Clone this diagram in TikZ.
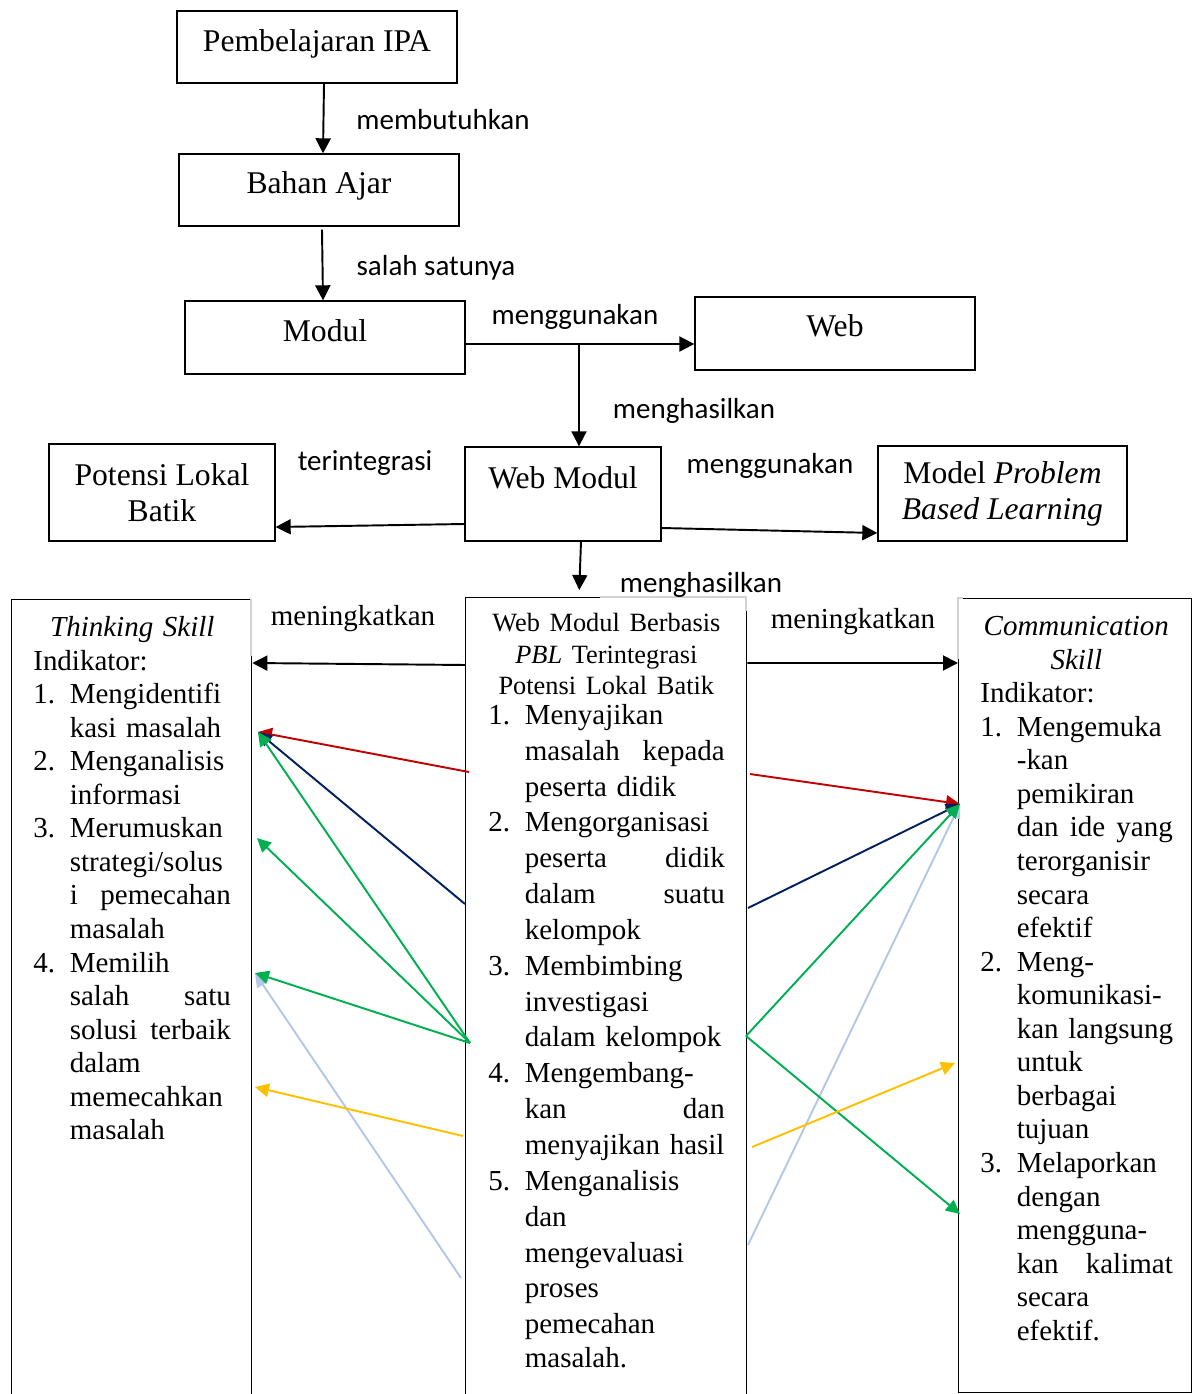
\documentclass[tikz,border=0pt]{standalone}
\usepackage{fontspec}
\setmainfont{Liberation Serif}
\newfontfamily\lblfont{Carlito}
\usetikzlibrary{arrows.meta}
\definecolor{cred}{RGB}{192,0,0}
\definecolor{cnavy}{RGB}{0,32,96}
\definecolor{cgreen}{RGB}{0,176,80}
\definecolor{cyellow}{RGB}{255,192,0}
\definecolor{cblue}{RGB}{180,199,231}
\newcommand{\li}[2]{\makebox[0.73cm][l]{#1}\mbox{#2}}
\newcommand{\spread}[2][3.22cm]{\hbox to #1{#2}}

\begin{document}
\begin{tikzpicture}[x = 0.02cm, y = -0.02cm,
	box/.style = {draw, line width = 0.8pt, font = \fontsize{18}{20.4}\selectfont, align = center},
	one/.style = {text height = 0.45cm, text depth = #1},
	frame/.style = {draw, line width = 0.8pt, anchor = north west, inner sep = 0pt},
	txt/.style = {anchor = north west, inner sep = 0pt, font = \fontsize{16.5}{19.1}\selectfont},
	lbl/.style = {font = \lblfont\fontsize{16.5}{19}\selectfont, text height = 0.4cm, text depth = 0.1cm},
	serlbl/.style = {font = \fontsize{16.5}{19}\selectfont, text height = 0.4cm, text depth = 0.1cm},
	arr/.style = {line width = 1.1pt, -{Triangle[length = 0.3cm, width = 0.3cm]}},
	cl/.style = {line width = 1.1pt, draw = #1, fill = #1, -{Triangle[length = 0.28cm, width = 0.27cm]}}]
	\useasboundingbox (0, 0) rectangle (1192, 1394);
		% upper boxes
		\node[box, one = 0.27cm, minimum width = 5.6cm, minimum height = 1.44cm] (ipa) at (317, 47) {Pembelajaran IPA};
		\node[box, one = 0.31cm, minimum width = 5.6cm, minimum height = 1.44cm] (bahan) at (319, 190) {Bahan Ajar};
		\node[box, one = 0.31cm, minimum width = 5.6cm, minimum height = 1.46cm] (modul) at (325, 337.5) {Modul};
		\node[box, one = 0.35cm, minimum width = 5.6cm, minimum height = 1.46cm] (web) at (835, 333.5) {Web};
		\node[box, minimum width = 4.52cm, minimum height = 1.94cm] (potensi) at (162, 492.5) {Potensi Lokal\\ Batik};
		\node[box, one = 0.67cm, minimum width = 3.92cm, minimum height = 1.88cm] (webmod) at (563, 494) {Web Modul};
		\node[box, minimum width = 4.98cm, minimum height = 1.9cm] (pbl) at (1002.5, 493.5) {Model \textit{Problem}\\ \textit{Based Learning}};
		% lower frames
		\node[frame, minimum width = 4.8cm, minimum height = 16.1cm] (think) at (11, 599) {};
		\node[frame, minimum width = 5.62cm, minimum height = 16.1cm] (basis) at (465, 597) {};
		\node[frame, minimum width = 4.66cm, minimum height = 15.88cm] (comm) at (958, 598) {};
		\draw[gray!35, line width = 0.8pt] (600, 597) -- (746, 597) -- (746, 611);
		\draw[gray!35, line width = 0.8pt] (251, 599) -- (251, 656);
		\draw[gray!35, line width = 0.8pt] (963, 598) -- (958, 598) -- (958, 659);
		% texts in the frames
		\node[txt, text width = 3.96cm] (thinktxt) at ([shift = {(0.44cm, -0.34cm)}] think.north west) {%
			{\centering\itshape Thinking Skill\par}
			Indikator:\\
			\li{1.}{Mengidentifi}\\
			\li{}{kasi masalah}\\
			\li{2.}{Menganalisis}\\
			\li{}{informasi}\\
			\li{3.}{Merumuskan}\\
			\li{}{strategi/solus}\\
			\li{}{\spread{i\hfill pemecahan}}\\
			\li{}{masalah}\\
			\li{4.}{Memilih}\\
			\li{}{\spread{salah\hfill satu}}\\
			\li{}{\spread{solusi\hfill terbaik}}\\
			\li{}{dalam}\\
			\li{}{memecahkan}\\
			\li{}{masalah}};
		\node[txt, text width = 4.72cm] (basistxt) at ([shift = {(0.46cm, -0.32cm)}] basis.north west) {%
			{\centering\fontsize{15}{17.9}\selectfont Web Modul Berbasis\\ \textit{PBL} Terintegrasi\\ Potensi Lokal Batik\par}
			\vspace{-0.12cm}
			\fontsize{16.5}{20.4}\selectfont
			\li{1.}{Menyajikan}\\
			\li{}{\spread[4cm]{masalah\hfill kepada}}\\
			\li{}{peserta didik}\\
			\li{2.}{Mengorganisasi}\\
			\li{}{\spread[4cm]{peserta\hfill didik}}\\
			\li{}{\spread[4cm]{dalam\hfill suatu}}\\
			\li{}{kelompok}\\
			\li{3.}{Membimbing}\\
			\li{}{investigasi}\\
			\li{}{dalam kelompok}\\
			\li{4.}{Mengembang-}\\
			\li{}{\spread[4cm]{kan\hfill dan}}\\
			\li{}{menyajikan hasil}\\
			\li{5.}{Menganalisis}\\
			\li{}{dan}\\
			\li{}{mengevaluasi}\\
			\li{}{proses}\\
			\li{}{pemecahan}\\
			\li{}{masalah.}};
		\node[txt, text width = 3.84cm] (commtxt) at ([shift = {(0.44cm, -0.36cm)}] comm.north west) {%
			{\centering\itshape Communication\\ Skill\par}
			Indikator:\\
			\li{1.}{Mengemuka}\\
			\li{}{-kan}\\
			\li{}{pemikiran}\\
			\li{}{\spread[3.12cm]{dan\hfill ide\hfill yang}}\\
			\li{}{terorganisir}\\
			\li{}{secara}\\
			\li{}{efektif}\\
			\li{2.}{Meng-}\\
			\li{}{komunikasi-}\\
			\li{}{kan langsung}\\
			\li{}{untuk}\\
			\li{}{berbagai}\\
			\li{}{tujuan}\\
			\li{3.}{Melaporkan}\\
			\li{}{dengan}\\
			\li{}{mengguna-}\\
			\li{}{\spread[3.12cm]{kan\hfill kalimat}}\\
			\li{}{secara}\\
			\li{}{efektif.}};
		% labels
		\node[lbl] (lbutuh) at (443, 122) {membutuhkan};
		\node[lbl] (lsalah) at (436, 268) {salah satunya};
		\node[lbl] (lguna) at (575, 317) {menggunakan};
		\node[lbl] (lhasil) at (694, 411) {menghasilkan};
		\node[lbl] (lintegrasi) at (365, 463) {terintegrasi};
		\node[lbl] (lgunapbl) at (770, 466) {menggunakan};
		\node[lbl] (lhasilbasis) at (701, 585) {menghasilkan};
		\node[serlbl] (ltingkatkiri) at (353, 618) {meningkatkan};
		\node[serlbl] (ltingkatkanan) at (853, 621) {meningkatkan};
		% black connectors
		\draw[arr] ([xshift = 0.14cm] ipa.south) -- ([xshift = 0.08cm] bahan.north);
		\draw[arr] ([xshift = 0.06cm, yshift = -0.06cm] bahan.south) -- ([xshift = -0.04cm] modul.north);
		\draw[arr] ([yshift = -0.13cm] modul.east) -- ([yshift = -0.13cm] modul.east -| web.west);
		\coordinate (split) at (579, 344);
		\draw[arr] (split) -- (split |- webmod.north);
		\draw[arr] ([yshift = -0.6cm] webmod.west) -- ([yshift = -0.69cm] potensi.east);
		\draw[arr] ([yshift = -0.68cm] webmod.east) -- ([yshift = -0.79cm] pbl.west);
		\draw[arr, shorten > = 0.14cm] ([xshift = 0.36cm] webmod.south) -- ([xshift = 0.32cm] webmod.south |- basis.north);
		\draw[arr] ([yshift = -1.36cm] basis.north west) -- ([yshift = -1.28cm] think.north east);
		\draw[arr] ([yshift = -1.32cm] basis.north east) -- ([yshift = -1.3cm] comm.north west);
		% points for the coloured connectors
		\coordinate (tk1) at (258, 732);
		\coordinate (tk3) at (257, 838);
		\coordinate (tk4) at (255, 973);
		\coordinate (tk5) at (255, 1087);
		\coordinate (cm1) at (960, 804);
		\coordinate (cm2) at (955, 1063);
		\coordinate (cm3) at (960, 1214);
		\coordinate (bl1) at (469, 772);
		\coordinate (bl2) at (465, 904);
		\coordinate (bl3) at (470, 1043);
		\coordinate (bl4) at (463, 1136);
		\coordinate (bl5) at (461, 1278);
		\coordinate (br1) at (750, 774);
		\coordinate (br2) at (748, 908);
		\coordinate (br3) at (746, 1036);
		\coordinate (br4) at (752, 1147);
		\coordinate (br5) at (748, 1245);
		% coloured connectors
		\draw[cl = cblue] (bl5) -- (tk4);
		\draw[cl = cblue] (br5) -- (cm1);
		\draw[cl = cred] (bl1) -- (tk1);
		\draw[cl = cnavy] (bl2) -- (tk1);
		\draw[cl = cgreen] (bl3) -- (tk1);
		\draw[cl = cgreen] (bl3) -- (tk3);
		\draw[cl = cgreen] (bl3) -- (tk4);
		\draw[cl = cyellow] (bl4) -- (tk5);
		\draw[cl = cred] (br1) -- (cm1);
		\draw[cl = cnavy] (br2) -- (cm1);
		\draw[cl = cgreen] (br3) -- (cm1);
		\draw[cl = cgreen] (br3) -- (cm3);
		\draw[cl = cyellow] (br4) -- (cm2);
\end{tikzpicture}
\end{document}
